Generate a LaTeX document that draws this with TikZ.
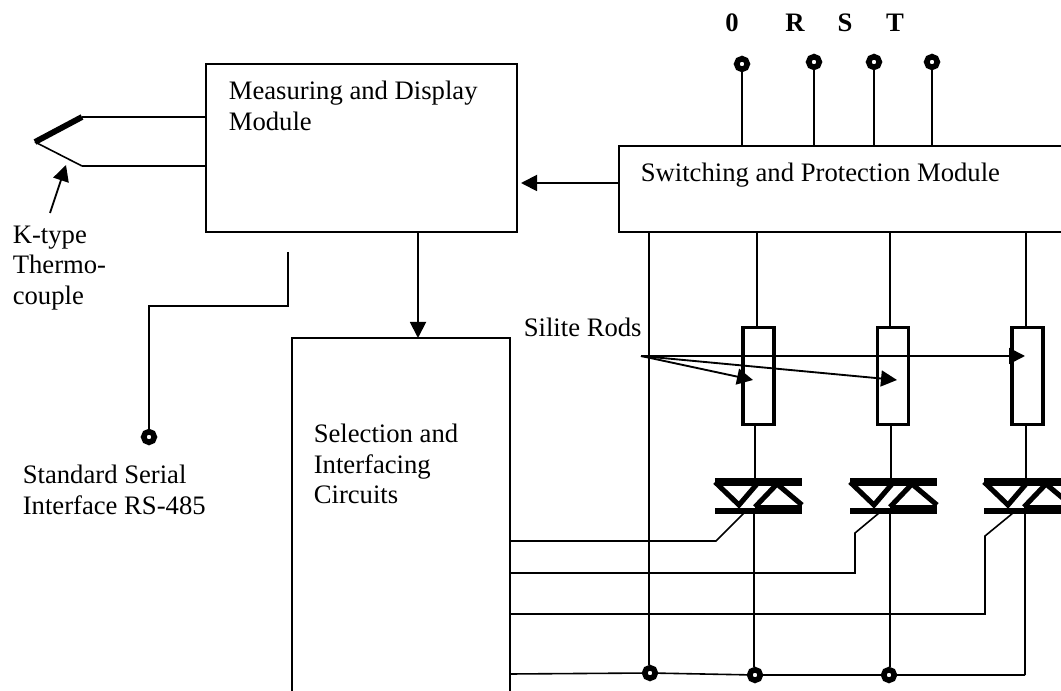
\documentclass[tikz,border=0pt]{standalone}
\usepackage{fontspec}
\setmainfont{Liberation Serif}
\usetikzlibrary{arrows.meta}

\tikzset{every picture/.style={line width=1.2pt}}
\tikzset{
  blockbox/.style={draw,rectangle,anchor=north west,inner sep=0pt,outer sep=0pt},
  rodbox/.style={draw,rectangle,line width=2.6pt,inner sep=0pt,outer sep=0pt,minimum width=23pt,minimum height=73pt},
  terminal/.style={draw,circle,fill=white,line width=4.2pt,inner sep=0pt,minimum size=8pt},
  labeltext/.style={anchor=west,inner sep=0pt,align=left,font=\fontsize{20}{23}\selectfont},
  phasetext/.style={inner sep=0pt,font=\fontsize{20}{23}\selectfont\bfseries},
  tiparrow/.style={-{Triangle[length=12pt,width=12pt]},line width=1.4pt},
}

\begin{document}
\begin{tikzpicture}[x=0.75pt,y=0.75pt,yscale=-1,xscale=1]
\useasboundingbox (0,0) rectangle (1061,691);

% boxes
\node (measbox) [blockbox,minimum width=311*0.75pt,minimum height=168*0.75pt] at (206,64) {};
\node (swbox) [blockbox,minimum width=460*0.75pt,minimum height=86*0.75pt] at (619,146) {};
\node (selbox) [blockbox,minimum width=218*0.75pt,minimum height=380*0.75pt] at (292,338) {};

% texts
\node (meastext) [labeltext] at (228,106) {Measuring and Display\\Module};
\node (swtext) [labeltext] at (640,175) {Switching and Protection Module};
\node (seltext) [labeltext] at (313,464) {Selection and\\Interfacing\\Circuits};
\node (rodtext) [labeltext] at (523,327) {Silite Rods};
\node (tctext) [labeltext] at (12,268) {K-type\\Thermo-\\couple};
\node (serialtext) [labeltext] at (22,490) {Standard Serial\\Interface RS-485};
\node (ptext0) [phasetext] at (732,23) {0};
\node (ptextr) [phasetext] at (795,23) {R};
\node (ptexts) [phasetext] at (845,23) {S};
\node (ptextt) [phasetext] at (895,23) {T};

% supply terminals
\node (term0) [terminal] at (742,64) {};
\node (termr) [terminal] at (814,62) {};
\node (terms) [terminal] at (874,62) {};
\node (termt) [terminal] at (932,62) {};
\draw (term0) -- (term0 |- swbox.north);
\draw (termr) -- (termr |- swbox.north);
\draw (terms) -- (terms |- swbox.north);
\draw (termt) -- (termt |- swbox.north);

% module arrows
\coordinate (swtip) at (521,183);
\coordinate (seltap) at (418,232);
\draw [tiparrow] (swbox.west |- swtip) -- (swtip);
\draw [tiparrow] (seltap) -- (seltap |- selbox.north);

% thermocouple
\coordinate (tcjoint) at (35,142);
\coordinate (tchot) at (82,117);
\coordinate (tccold) at (82,166);
\coordinate (tcfrom) at (50,213);
\coordinate (tctip) at (66,165);
\draw [line width=4.4pt] (tcjoint) -- (tchot);
\draw (tcjoint) -- (tccold);
\draw (tchot) -- (tchot -| measbox.west);
\draw (tccold) -- (tccold -| measbox.west);
\draw [tiparrow] (tcfrom) -- (tctip);

% serial interface
\coordinate (sertap) at (288,252);
\coordinate (serbend) at (288,306);
\node (serterm) [terminal] at (149,437) {};
\draw (sertap) -- (serbend) -- (serbend -| serterm) -- (serterm);

% rods
\node (rod1) [rodbox] at (758.5,376) {};
\node (rod2) [rodbox] at (893,376) {};
\node (rod3) [rodbox] at (1027.5,376) {};

% triacs
\foreach \n/\tx in {1/0,2/135,3/269}{
\begin{scope}[xshift=\tx*0.75pt]
\draw [line width=6pt] (715,482) -- (802,482);
\draw [line width=4.4pt] (715,511) -- (802,511);
\draw [line width=6pt] (755,509) -- (802,509);
\draw [line width=3.8pt] (715,482) -- (739,505) -- (757,484);
\draw [line width=3.8pt] (755,507) -- (777,484) -- (802,505);
\coordinate (gate\n) at (744,513);
\end{scope}
}

% phase lines
\foreach \n/\xa/\xb/\xc in {1/757/755/754,2/890/891/890,3/1026/1026/1025}{
\coordinate (up\n) at (\xa,232);
\coordinate (triup\n) at (\xb,479);
\coordinate (trilow\n) at (\xc,512);
\draw (up\n) -- (up\n |- rod\n.north);
\draw (rod\n.south -| triup\n) -- (triup\n);
}

% rod pointers
\coordinate (rodfrom) at (641,356);
\coordinate (tip1) at (753,380);
\coordinate (tip2) at (897,380);
\coordinate (tip3) at (1025,356);
\draw [tiparrow] (rodfrom) -- (tip1);
\draw [tiparrow] (rodfrom) -- (tip2);
\draw [tiparrow] (rodfrom) -- (tip3);

% neutral and return lines
\coordinate (neutop) at (649,232);
\node (dot0) [terminal] at (650,673) {};
\node (dot1) [terminal] at (755,675) {};
\node (dot2) [terminal] at (889,675) {};
\coordinate (retcorner) at (1025,675);
\coordinate (selret) at (510,674);
\draw (neutop) -- (neutop |- dot0.north);
\draw (trilow1) -- (trilow1 |- dot1.north);
\draw (trilow2) -- (trilow2 |- dot2.north);
\draw (trilow3) -- (retcorner);
\draw (selret) -- (dot0) -- (dot1) -- (dot2) -- (retcorner);

% gate lines
\coordinate (gbend1) at (716,541);
\coordinate (gbend2) at (855,533);
\coordinate (gbend3) at (985,536);
\coordinate (gleft1) at (510,541);
\coordinate (gleft2) at (510,573);
\coordinate (gleft3) at (510,614);
\draw (gate1) -- (gbend1) -- (gleft1);
\draw (gate2) -- (gbend2) -- (gbend2 |- gleft2) -- (gleft2);
\draw (gate3) -- (gbend3) -- (gbend3 |- gleft3) -- (gleft3);

\end{tikzpicture}
\end{document}
